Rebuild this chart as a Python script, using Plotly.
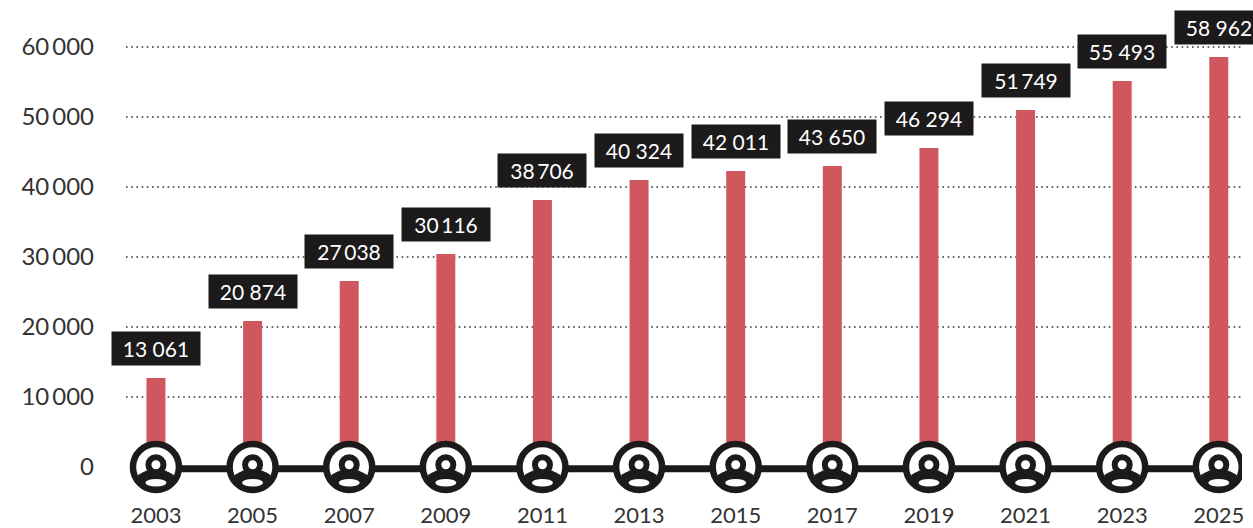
import plotly.graph_objects as go

years = [2003, 2005, 2007, 2009, 2011, 2013, 2015, 2017, 2019, 2021, 2023, 2025]
bar_values = [12700, 20860, 26570, 30430, 38140, 41000, 42290, 43000, 45570, 51000, 55140, 58570]
bar_labels = ["13 061", "20 874", "27\u2009038", "30\u2009116", "38\u2009706", "40 324",
              "42 011", "43 650", "46 294", "51\u2009749", "55 493", "58 962"]
y_ticks = [0, 10000, 20000, 30000, 40000, 50000, 60000]
y_tick_labels = ["0", "10\u2009000", "20\u2009000", "30\u2009000", "40\u2009000", "50\u2009000", "60\u2009000"]

BLACK = "#1c1a1b"
RED = "#d1575e"
TEXT = "#333333"
FONT = "Lato"

fig = go.Figure()
fig.add_trace(go.Scatter(x=years, y=[-250] * len(years), mode="lines",
                         line=dict(color=BLACK, width=7), hoverinfo="skip"))
fig.add_trace(go.Bar(x=years, y=bar_values, width=0.393, marker=dict(color=RED, line=dict(width=0))))

shapes = []
for v in y_ticks[1:]:
    shapes.append(dict(type="line", xref="paper", x0=0, x1=1, yref="y", y0=v, y1=v, layer="below",
                       line=dict(color="#333333", width=1.6, dash="1.6px,3.6px")))


def pix(year, **kw):
    return dict(xref="x", yref="y", xsizemode="pixel", ysizemode="pixel", xanchor=year, yanchor=0,
                layer="above", **kw)


for yr in years:
    shapes.append(pix(yr, type="circle", x0=-23, x1=23, y0=-23, y1=23, fillcolor="white",
                      line=dict(color=BLACK, width=6.5)))
    shapes.append(pix(yr, type="path", path="M-18,-8 Q0,4 18,-8 L14,-22 L0,-24 L-14,-22 Z",
                      fillcolor=BLACK, line=dict(width=0)))
    shapes.append(pix(yr, type="circle", x0=-10.5, x1=10.5, y0=-19.5, y1=-12, fillcolor="white",
                      line=dict(width=0)))
    shapes.append(pix(yr, type="circle", x0=-7.5, x1=7.5, y0=-5.2, y1=9.8, fillcolor="white",
                      line=dict(color=BLACK, width=6)))

annotations = [dict(x=yr, y=v, xref="x", yref="y", text=lab, showarrow=False, xanchor="center",
                    yanchor="bottom", yshift=12, width=88, height=33, bgcolor=BLACK, borderpad=0,
                    align="center", valign="middle", font=dict(family=FONT, size=21, color="white"))
               for yr, v, lab in zip(years, bar_values, bar_labels)]

fig.update_layout(
    width=1253, height=528, autosize=False,
    margin=dict(l=126, r=11, t=0, b=33, autoexpand=False),
    paper_bgcolor="white", plot_bgcolor="white",
    showlegend=False, shapes=shapes, annotations=annotations,
    xaxis=dict(range=[2002.38, 2025.48], tickmode="array", tickvals=years,
               ticktext=[str(y) for y in years], showgrid=False, zeroline=False, showline=False,
               ticks="", ticklabelstandoff=5, tickangle=0,
               tickfont=dict(family=FONT, size=22, color=TEXT)),
    yaxis=dict(range=[-4000, 66714], tickmode="array", tickvals=y_ticks, ticktext=y_tick_labels,
               showgrid=False, zeroline=False, showline=False, ticks="", ticklabelstandoff=31,
               tickfont=dict(family=FONT, size=24, color=TEXT)),
)
fig.write_html("out.html", config=dict(displayModeBar=False),
               post_script="document.documentElement.style.margin='0';document.body.style.margin='0';document.body.style.overflow='hidden';")
